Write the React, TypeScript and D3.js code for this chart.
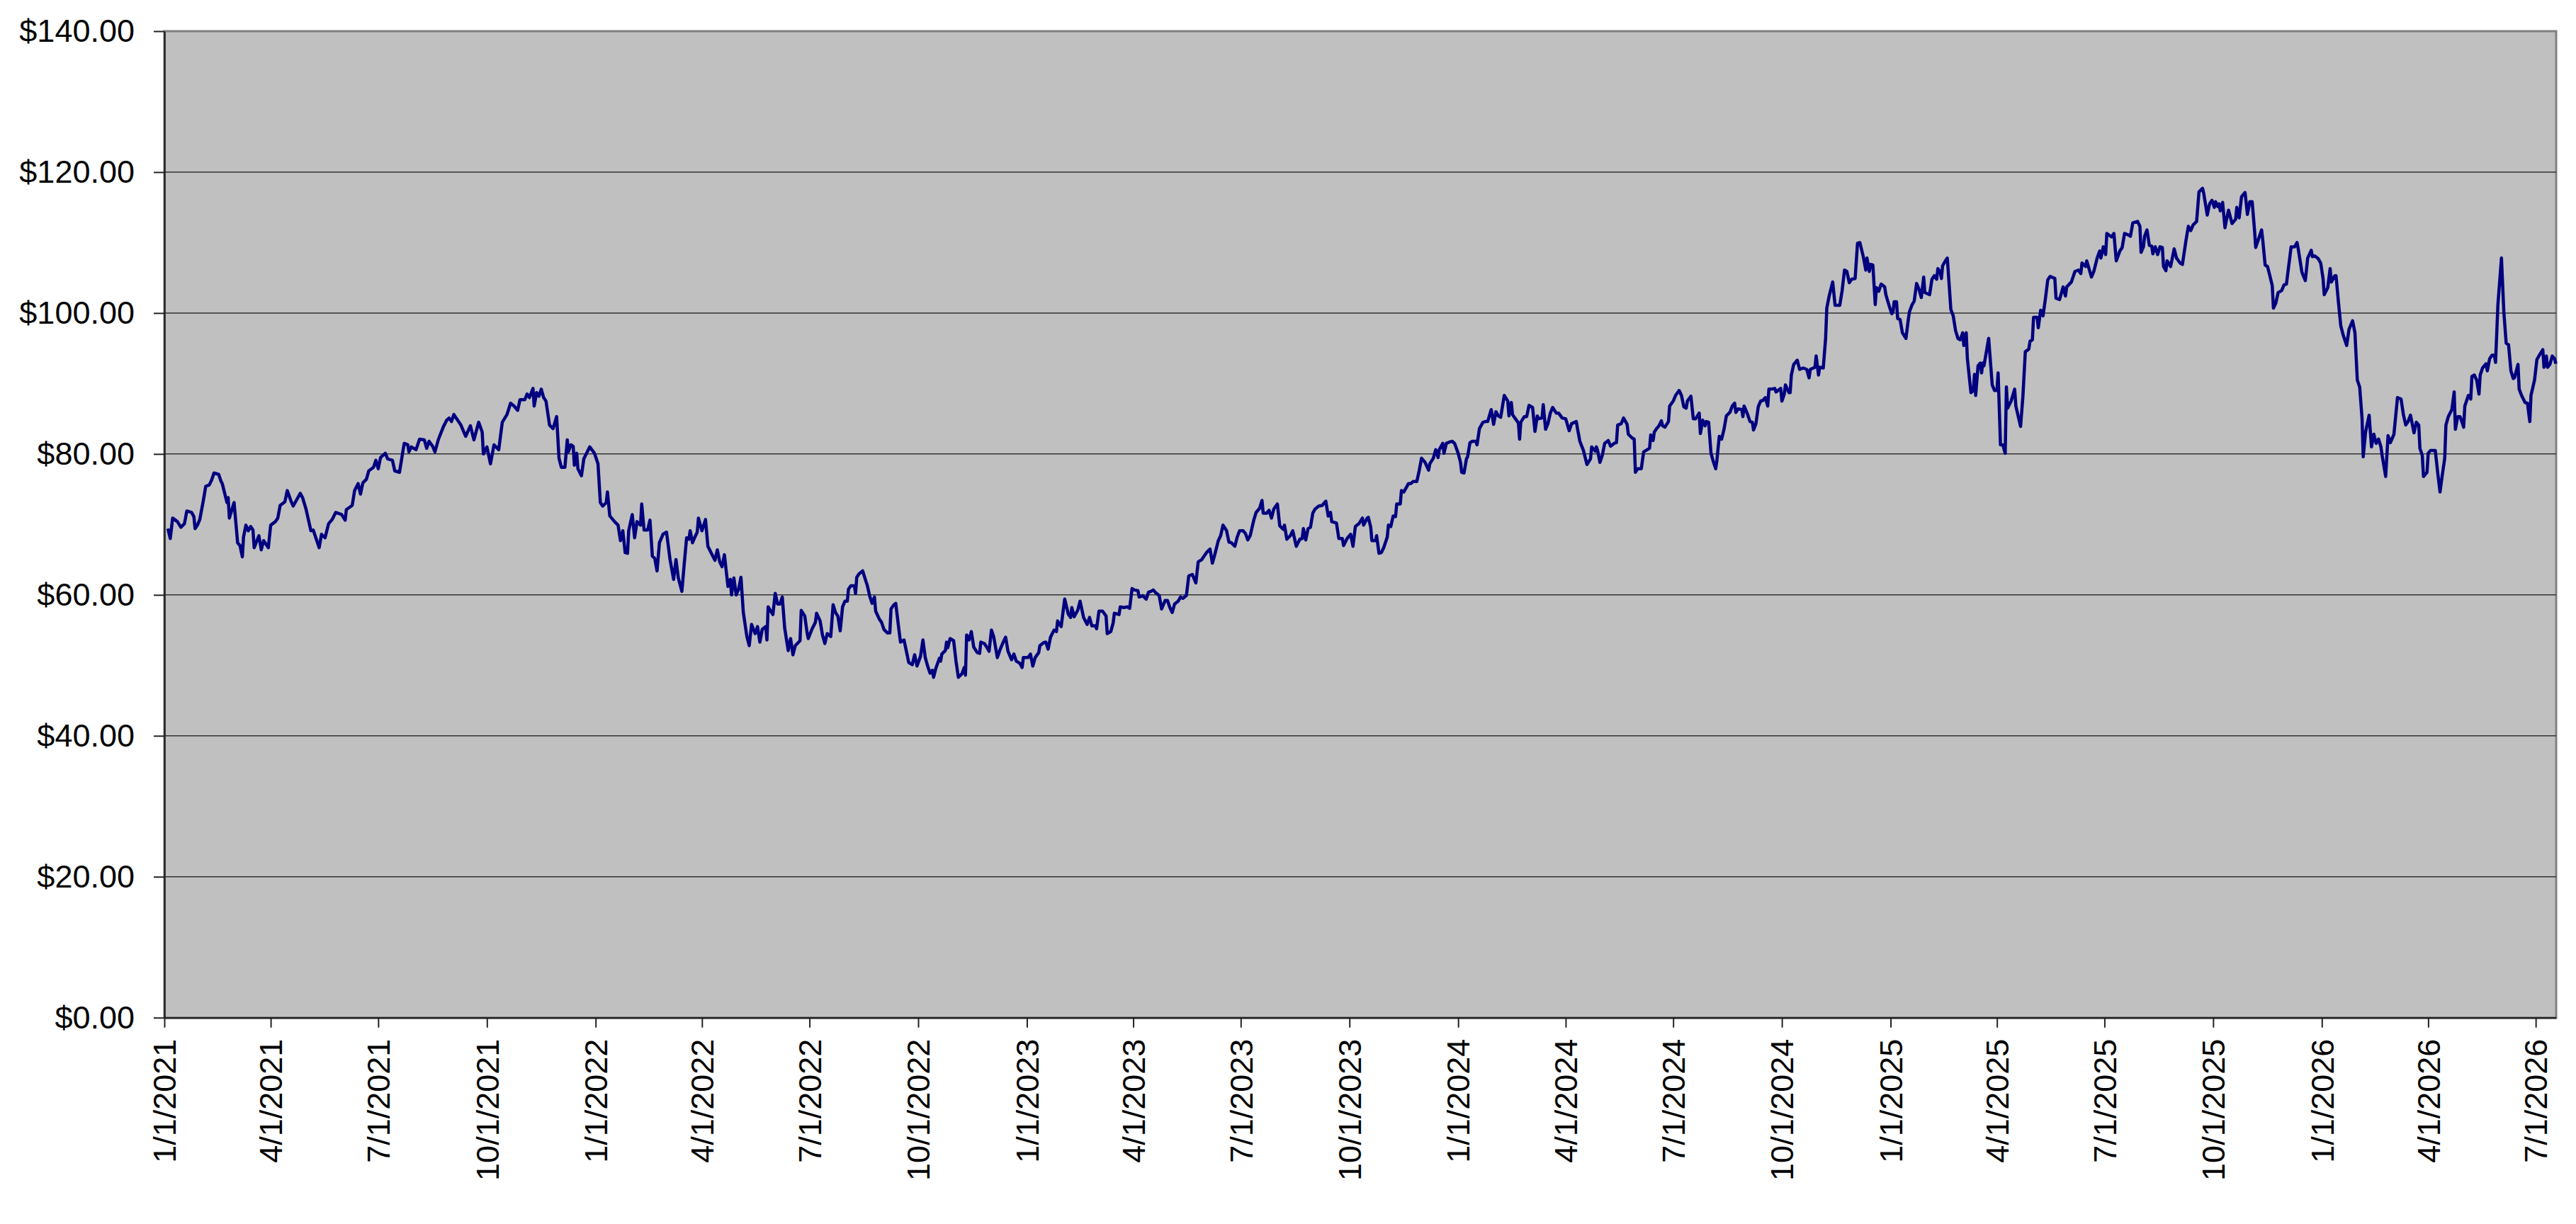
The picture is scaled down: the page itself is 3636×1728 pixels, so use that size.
import React, { useEffect, useRef } from 'react';
import * as d3 from 'd3';

// days since 1/1/2021 and the closing price read at each of them
const sessionDay = [
  3, 5, 7, 11, 14, 17, 19, 23, 25, 26, 28, 30, 33, 35, 38, 40, 42, 46, 48, 49,
  53, 54, 55, 59, 62, 64, 66, 67, 69, 71, 73, 75, 76, 80, 82, 84, 88, 90, 94, 96,
  98, 102, 104, 107, 109, 115, 117, 120, 124, 126, 129, 131, 133, 136, 139, 142, 145, 150, 153, 154,
  159, 161, 164, 166, 168, 171, 173, 177, 179, 181, 183, 187, 189, 193, 195, 199, 203, 206, 207, 209,
  213, 216, 220, 222, 224, 227, 229, 232, 236, 239, 241, 243, 245, 247, 251, 255, 259,
  262, 266, 269, 270, 273, 276, 279, 283, 286, 290, 293, 296, 299, 301, 305, 307, 309, 312, 313, 315,
  317, 319, 321, 323, 326, 329, 332, 334, 336, 339, 341, 342, 344, 346, 347, 349, 350, 353, 355, 360,
  364, 367, 369, 371, 374, 375, 377, 381, 384, 386, 388, 390, 392, 393, 396, 398, 400, 403, 404, 406,
  409, 411, 413, 415, 417, 419, 422, 425, 428, 431, 433, 435, 438, 440, 442, 444, 445, 447, 449, 451,
  452, 455, 458, 460, 463, 466, 468, 470, 472, 474, 477, 479, 480, 482, 484, 486, 488, 490, 493, 495,
  497, 500, 502, 504, 506, 509, 510, 511,
  515, 517, 519, 521, 523, 525, 528, 530, 532, 534, 538, 539, 542, 544, 545, 548, 551, 552, 555, 557,
  559, 561, 564, 566, 568, 570, 572, 574, 576, 578, 579, 581, 584, 585, 586, 588, 591, 594, 595, 597,
  599, 601, 602, 605, 607, 609, 612, 614, 615, 617, 619, 621, 623, 626, 630, 633, 635, 637, 640, 642,
  644, 646, 648, 650, 651, 653, 656, 657, 658, 661, 662, 663, 665, 668, 670, 672, 675, 677, 678, 679,
  681, 683, 685, 688, 690, 691, 694, 696, 698, 700, 702, 705, 707, 710, 712, 714, 717, 719, 721, 724,
  726, 727, 731, 733, 735, 737, 740, 741, 744, 746, 748, 750, 753, 755, 756, 759, 762, 765,
  767, 768, 770, 773, 775, 778, 781, 783, 785, 788, 789, 791, 794, 797, 798, 801, 803, 804, 808, 809,
  812, 815, 817, 819, 821, 824, 825, 828, 831, 833, 835, 837, 839, 842, 844, 847, 849, 851, 853, 855,
  858, 860, 862, 865, 867, 870, 873, 875, 878, 880, 882, 885, 887, 889, 892, 894, 896, 899, 901, 903,
  906, 908, 910, 913, 915, 917, 919, 922, 924, 927, 929, 930, 933, 935, 937, 939, 942, 944, 947, 948,
  950, 953, 955, 958, 961, 963, 964, 966, 968, 970, 972, 974, 977, 980, 983, 985, 987, 988, 992, 994,
  997, 998, 1001, 1004, 1006, 1008, 1011, 1014, 1015, 1018,
  1019, 1021, 1022, 1025, 1026, 1028, 1030, 1032, 1035, 1036, 1038, 1040, 1042, 1043, 1046, 1047, 1049, 1053, 1055, 1057,
  1060, 1062, 1064, 1067, 1070, 1071, 1074, 1076, 1078, 1079, 1082, 1083, 1085, 1088, 1090, 1092, 1095, 1097, 1098, 1100,
  1102, 1103, 1105, 1107, 1110, 1111, 1113, 1116, 1118, 1120, 1123, 1125, 1127, 1129, 1131, 1134, 1137, 1138, 1140, 1141,
  1143, 1146, 1147, 1148, 1151, 1153, 1155, 1158, 1160, 1162, 1163, 1166, 1167, 1169, 1171, 1173, 1175, 1178, 1180, 1183,
  1186, 1189, 1191, 1195, 1196, 1198, 1201, 1204, 1207, 1208, 1211, 1212, 1213, 1215, 1217, 1219, 1222, 1224, 1227, 1229,
  1230, 1233, 1235, 1238, 1239, 1242, 1244, 1245, 1247, 1250, 1252, 1255, 1257, 1258, 1260, 1261, 1263, 1265,
  1267, 1268, 1270, 1273, 1274, 1277, 1279, 1282, 1284, 1286, 1288, 1289, 1292, 1294, 1296, 1299, 1300, 1302, 1304, 1305,
  1307, 1309, 1311, 1313, 1314, 1316, 1318, 1320, 1322, 1325, 1327, 1329, 1330, 1332, 1335, 1336, 1337, 1340, 1342, 1344,
  1345, 1347, 1349, 1351, 1353, 1355, 1357, 1358, 1360, 1363, 1364, 1368, 1369, 1371, 1372, 1375, 1376, 1377, 1379, 1382,
  1384, 1387, 1390, 1392, 1393, 1397, 1398, 1400, 1401, 1404, 1406, 1407, 1409, 1412, 1414, 1418, 1420, 1422, 1424, 1426,
  1428, 1431, 1433, 1435, 1438, 1440, 1441, 1443, 1444, 1446, 1448, 1449, 1451, 1453, 1456, 1457, 1460, 1462, 1463, 1464,
  1466, 1467, 1469, 1471, 1474, 1476, 1477, 1479, 1481, 1483, 1485, 1487, 1489, 1490, 1494, 1496, 1498, 1500, 1501, 1503,
  1504, 1505, 1507, 1509, 1512, 1514, 1516, 1518,
  1520, 1522, 1523, 1525, 1526, 1529, 1531, 1532, 1533, 1535, 1537, 1538, 1539, 1540, 1544, 1547, 1549, 1551, 1552, 1554,
  1556, 1558, 1559, 1560, 1563, 1566, 1567, 1571, 1573, 1575, 1578, 1579, 1581, 1582, 1585, 1586, 1588, 1590, 1592, 1594,
  1596, 1600, 1601, 1604, 1607, 1609, 1610, 1614, 1617, 1620, 1622, 1623, 1626, 1627, 1631, 1633, 1636, 1638, 1639, 1641,
  1643, 1644, 1648, 1650, 1652, 1655, 1657, 1659, 1662, 1664, 1666, 1670, 1672, 1673, 1675, 1676, 1678, 1680, 1682, 1683,
  1685, 1687, 1689, 1691, 1692, 1694, 1695, 1698, 1701, 1703, 1706, 1708, 1711, 1713, 1715, 1717, 1720, 1722, 1725, 1726,
  1729, 1731, 1733, 1735, 1736, 1738, 1739, 1740, 1742, 1744, 1745, 1747, 1750, 1753, 1754, 1756, 1758, 1761, 1763, 1765,
  1767, 1769, 1770,
  1772, 1775, 1776, 1778, 1780, 1782, 1784, 1785, 1787, 1789, 1792, 1794, 1796, 1800, 1803, 1805, 1806, 1809, 1810, 1812,
  1814, 1817, 1818, 1820, 1823, 1825, 1827, 1828, 1831, 1833, 1834, 1837, 1838, 1840, 1842, 1844, 1847, 1849, 1852, 1854,
  1856, 1858, 1860, 1861, 1863, 1866, 1868, 1870, 1872, 1874, 1876, 1877, 1880, 1882, 1884, 1887, 1890, 1893, 1895, 1897,
  1899, 1901, 1904, 1906, 1908, 1909, 1911, 1912, 1915, 1916, 1918, 1922, 1924, 1926, 1928, 1930, 1931, 1933, 1936, 1938,
  1939, 1941, 1943, 1946, 1947, 1950, 1952, 1953, 1955, 1957, 1959, 1960, 1962, 1965, 1966, 1968, 1970, 1972, 1973, 1975,
  1978, 1980, 1982, 1984, 1986, 1988, 1989, 1992, 1993, 1995, 1998, 2000, 2002, 2003, 2006, 2008, 2010, 2013, 2014, 2016,
  2017, 2019, 2021, 2023, 2024,
];

const closePrice = [
  69.4, 68.0, 70.9, 70.4, 69.6, 70.1, 71.9, 71.7, 71.1, 69.4, 69.9, 70.7, 73.4, 75.4, 75.6, 76.3, 77.3, 77.1, 76.1, 75.8,
  73.1, 73.8, 70.9, 73.1, 67.4, 67.0, 65.4, 68.2, 69.9, 69.1, 69.7, 69.2, 66.7, 68.4, 66.4, 67.7, 66.7, 69.9, 70.4, 70.9,
  72.7, 73.2, 74.8, 73.4, 72.6, 74.4, 73.8, 72.1, 69.1, 69.2, 67.7, 66.7, 68.6, 68.1, 70.1, 70.7, 71.7, 71.4, 70.6, 72.1,
  72.7, 74.8, 75.8, 74.3, 75.9, 76.4, 77.6, 78.1, 79.1, 77.9, 79.5, 80.1, 79.3, 79.1, 77.6, 77.4, 81.5, 81.3, 80.3, 81.0,
  80.6, 82.1, 82.0, 80.8, 81.8, 81.1, 80.3, 82.1, 83.8, 84.8, 85.1, 84.6, 85.6, 85.1, 84.1, 82.5, 84.0,
  82.0, 84.5, 83.1, 80.0, 81.0, 78.6, 81.3, 80.6, 84.5, 85.6, 87.2, 86.8, 86.2, 87.7, 87.7, 88.5, 88.0, 89.3, 86.8, 88.7,
  88.2, 89.2, 88.0, 87.5, 84.1, 83.6, 85.3, 79.4, 78.1, 78.1, 82.0, 80.3, 81.3, 81.1, 78.4, 80.1, 77.9, 76.9, 79.3, 81.0,
  80.1, 78.6, 73.1, 72.6, 73.1, 74.6, 71.2, 70.4, 69.9, 67.7, 69.1, 66.0, 65.9, 69.1, 71.4, 68.1, 70.4, 69.9, 72.9, 69.2,
  69.2, 70.6, 65.5, 65.2, 63.4, 67.4, 68.6, 68.9, 65.0, 62.2, 65.0, 62.4, 60.5, 64.4, 68.1, 67.9, 69.1, 67.4, 68.2, 68.9,
  70.9, 69.1, 70.7, 66.9, 65.9, 64.9, 66.4, 64.7, 64.0, 65.7, 61.2, 62.2, 60.0, 62.4, 60.0, 60.8, 62.5, 57.5, 54.1, 52.8,
  55.8, 54.5, 55.5, 53.3, 55.1, 55.5, 53.6, 58.3,
  57.2, 60.2, 58.7, 58.7, 59.7, 55.3, 52.1, 53.8, 51.5, 52.8, 53.5, 57.8, 57.0, 54.6, 53.8, 55.1, 56.1, 57.4, 56.3, 54.3,
  53.1, 54.5, 54.1, 58.6, 57.5, 57.0, 54.9, 58.3, 59.1, 59.1, 60.8, 61.3, 61.3, 60.2, 62.5, 63.0, 63.4, 61.8, 61.3, 59.8,
  58.8, 59.7, 57.7, 56.6, 56.1, 55.1, 54.6, 54.6, 58.0, 58.5, 58.8, 56.0, 53.3, 53.6, 50.4, 50.1, 51.5, 49.9, 51.3, 53.6,
  51.1, 49.9, 48.9, 49.3, 48.3, 49.6, 51.0, 50.6, 51.6, 52.1, 53.3, 52.5, 53.8, 53.5, 50.6, 48.3, 48.8, 49.7, 48.6, 54.3,
  53.6, 54.8, 52.6, 51.8, 51.7, 53.3, 53.1, 52.6, 52.0, 55.0, 54.0, 51.1, 52.1, 53.3, 54.0, 52.0, 50.8, 51.6, 50.6, 50.3,
  49.7, 51.1, 51.1, 51.6, 49.9, 51.1, 51.8, 52.8, 53.2, 53.3, 52.3, 54.0, 55.0, 54.8, 56.3, 55.5, 59.4, 57.3,
  56.8, 58.2, 56.9, 57.8, 59.1, 56.8, 55.8, 56.8, 55.6, 55.6, 55.2, 57.7, 57.7, 57.0, 54.5, 54.8, 56.0, 57.4, 57.2, 58.3,
  58.2, 58.3, 58.1, 60.9, 60.7, 60.6, 59.7, 59.9, 59.4, 60.4, 60.5, 60.7, 60.3, 59.9, 58.0, 59.2, 59.2, 58.2, 57.5, 58.7,
  59.1, 59.7, 59.5, 59.9, 62.7, 62.9, 61.7, 64.7, 65.0, 65.5, 66.0, 66.5, 64.5, 65.7, 67.7, 68.4, 69.9, 69.1, 67.5, 67.4,
  66.9, 68.2, 69.1, 69.1, 68.7, 67.8, 68.4, 70.6, 71.7, 72.3, 73.4, 71.6, 71.6, 72.0, 70.9, 72.2, 72.9, 69.8, 69.3, 69.9,
  67.9, 68.4, 69.1, 66.9, 67.9, 68.0, 69.4, 67.8, 69.4, 69.6, 71.6, 72.2, 72.6, 72.7, 73.3, 71.2, 71.7, 70.4, 70.2, 68.0,
  68.0, 67.0, 68.0, 68.6, 66.9, 69.7, 70.1, 70.9, 69.9, 70.9,
  71.0, 69.6, 67.7, 67.7, 68.4, 65.9, 66.0, 66.7, 68.2, 69.9, 69.7, 71.2, 71.1, 72.9, 72.9, 74.8, 74.6, 75.8, 75.8, 76.1,
  76.1, 77.6, 79.4, 78.8, 77.7, 78.6, 79.4, 80.6, 79.5, 80.6, 81.5, 80.1, 81.5, 81.7, 81.8, 81.5, 80.1, 78.8, 77.4, 77.3,
  79.3, 79.6, 81.6, 81.8, 81.8, 81.3, 83.6, 84.5, 84.6, 84.6, 86.3, 84.2, 86.0, 85.4, 85.2, 88.3, 87.5, 85.4, 87.3, 85.6,
  85.1, 84.4, 82.1, 84.5, 85.3, 85.3, 86.9, 86.6, 83.2, 85.4, 85.0, 85.1, 87.0, 83.5, 84.3, 85.8, 86.6, 85.8, 85.8, 85.1,
  85.0, 83.3, 84.3, 84.6, 83.6, 81.8, 80.5, 78.5, 79.3, 81.0, 80.4, 81.0, 80.5, 78.8, 79.8, 81.5, 81.9, 81.1, 81.5, 81.6,
  84.1, 84.3, 85.1, 84.2, 82.8, 82.3, 82.1, 77.4, 77.9, 77.9, 80.3, 80.6, 80.8, 82.7, 81.9, 83.1, 83.6, 84.0,
  84.7, 84.0, 83.8, 84.6, 86.8, 87.5, 88.3, 89.0, 88.3, 86.7, 86.5, 87.5, 88.2, 85.0, 85.0, 85.8, 82.9, 84.8, 84.0, 84.6,
  84.5, 80.1, 78.9, 77.9, 79.1, 82.5, 82.1, 83.5, 85.4, 85.9, 86.8, 87.2, 85.9, 86.4, 86.3, 85.3, 86.8, 85.6, 84.6, 84.5,
  83.4, 84.3, 86.7, 87.5, 87.6, 88.0, 86.8, 89.2, 89.2, 89.3, 88.8, 89.3, 87.5, 88.5, 89.8, 88.7, 88.7, 91.2, 92.7, 93.3,
  92.0, 92.2, 92.0, 90.8, 92.0, 92.3, 93.9, 91.2, 92.3, 92.2, 96.4, 100.7, 102.4, 104.4, 101.1, 101.1, 103.2, 106.1, 105.9, 104.3,
  104.8, 104.9, 109.9, 110.0, 107.9, 106.1, 107.8, 105.9, 106.9, 106.8, 101.2, 103.6, 103.1, 104.1, 103.7, 102.6, 100.9, 99.9, 100.1, 101.6,
  101.6, 99.2, 99.1, 97.2, 96.4, 99.1, 100.2, 101.1, 101.7, 104.2, 103.4, 102.2, 105.1, 102.9, 102.6, 104.8, 105.3, 104.8, 106.3, 105.8,
  104.9, 106.7, 107.3, 107.8, 100.5, 99.6, 97.5, 96.4,
  96.2, 97.2, 95.4, 97.2, 93.5, 88.7, 89.0, 91.3, 88.3, 92.5, 92.9, 91.5, 92.9, 92.5, 96.4, 89.8, 89.0, 89.0, 91.5, 81.3,
  81.3, 80.1, 89.5, 86.5, 87.5, 89.2, 86.8, 83.9, 88.2, 94.5, 94.9, 96.0, 96.2, 99.4, 99.4, 97.9, 100.4, 99.6, 102.0, 104.7,
  105.2, 104.9, 102.1, 101.9, 103.7, 102.4, 103.7, 104.4, 105.9, 106.1, 105.6, 107.1, 106.6, 107.4, 105.1, 105.9, 107.9, 108.8, 107.8, 109.4,
  108.3, 111.3, 110.8, 111.3, 107.4, 108.8, 109.3, 111.3, 111.1, 110.9, 112.8, 113.0, 112.3, 108.6, 109.4, 110.9, 111.8, 109.6, 109.5, 108.4,
  109.4, 108.3, 109.4, 109.3, 106.6, 106.0, 107.4, 106.6, 109.1, 107.8, 107.1, 106.9, 110.3, 112.3, 111.7, 112.5, 113.0, 117.2, 117.7, 117.0,
  113.9, 115.5, 116.0, 115.0, 115.8, 115.1, 115.5, 114.5, 115.7, 112.1, 113.0, 114.6, 112.7, 113.3, 115.0, 113.5, 116.5, 117.1, 114.0, 115.8,
  115.8, 111.8, 109.3,
  110.3, 111.8, 110.3, 106.8, 106.6, 105.3, 103.9, 100.7, 101.4, 102.9, 103.2, 104.0, 104.1, 109.4, 109.4, 110.0, 109.1, 105.9, 105.4, 104.6,
  107.8, 108.9, 108.0, 108.1, 107.7, 107.1, 104.9, 102.6, 103.6, 106.3, 104.4, 105.3, 105.3, 101.6, 98.2, 96.9, 95.4, 97.7, 98.9, 97.2,
  90.5, 89.5, 85.1, 79.6, 83.1, 85.5, 81.0, 82.8, 81.5, 82.1, 81.0, 79.8, 76.8, 82.6, 81.6, 82.8, 88.0, 87.8, 85.6, 84.1,
  84.6, 85.5, 83.0, 84.5, 84.1, 80.8, 79.8, 76.8, 77.4, 80.1, 80.5, 80.5, 77.4, 74.6, 77.1, 79.4, 84.1, 85.3, 86.3, 88.8,
  83.5, 85.3, 85.3, 83.8, 86.8, 88.3, 87.8, 91.0, 91.2, 90.5, 88.5, 91.2, 92.2, 92.8, 91.8, 93.5, 94.0, 94.0, 93.0, 101.2,
  107.8, 100.2, 95.7, 95.5, 91.8, 90.7, 90.8, 92.7, 89.2, 88.3, 87.3, 87.2, 84.6, 88.3, 90.5, 93.4, 94.0, 94.8, 92.3, 93.9,
  92.3, 92.7, 93.9, 93.5, 92.8,
];

const priceTicks = [0, 20, 40, 60, 80, 100, 120, 140];

const START = Date.UTC(2021, 0, 1);
const DAY_MS = 86400000;
const LAST_DAY = 2024.3;

const App = () => {
  const svgRef = useRef(null);

  useEffect(() => {
    const svg = d3.select(svgRef.current);
    const width = 3636;
    const height = 1728;
    const plot = { left: 232, right: 3608, top: 44, bottom: 1436.7 };
    const font = "'Liberation Sans', Arial, sans-serif";

    const data = sessionDay.map((d, i) => ({
      date: new Date(START + d * DAY_MS),
      value: closePrice[i],
    }));

    const xScale = d3
      .scaleUtc()
      .domain([new Date(START), new Date(START + LAST_DAY * DAY_MS)])
      .range([plot.left, plot.right]);

    const yScale = d3.scaleLinear().domain([0, 140]).range([plot.bottom, plot.top]);

    svg.attr('width', width).attr('height', height);

    svg
      .append('rect')
      .attr('width', width)
      .attr('height', height)
      .attr('fill', '#ffffff');

    // plot area
    svg
      .append('rect')
      .attr('x', plot.left)
      .attr('y', plot.top)
      .attr('width', plot.right - plot.left)
      .attr('height', plot.bottom - plot.top)
      .attr('fill', '#c0c0c0')
      .attr('stroke', '#808080')
      .attr('stroke-width', 3);

    // gridlines
    svg
      .selectAll('.grid')
      .data(priceTicks.filter((t) => t > 0 && t < 140))
      .enter()
      .append('line')
      .attr('class', 'grid')
      .attr('x1', plot.left)
      .attr('x2', plot.right)
      .attr('y1', (d) => yScale(d))
      .attr('y2', (d) => yScale(d))
      .attr('stroke', '#333333')
      .attr('stroke-width', 1.5);

    // price line
    const line = d3
      .line()
      .x((d) => xScale(d.date))
      .y((d) => yScale(d.value));

    svg
      .append('path')
      .datum(data)
      .attr('d', line)
      .attr('fill', 'none')
      .attr('stroke', '#000080')
      .attr('stroke-width', 4.5)
      .attr('stroke-linejoin', 'round');

    // y-axis
    const yAxis = svg
      .append('g')
      .attr('transform', `translate(${plot.left},0)`)
      .call(
        d3
          .axisLeft(yScale)
          .tickValues(priceTicks)
          .tickFormat(d3.format('$,.2f'))
          .tickSize(15)
          .tickSizeOuter(0)
          .tickPadding(27)
      );
    yAxis.attr('font-family', font).attr('font-size', 45).attr('color', '#000');
    yAxis.select('.domain').attr('stroke', '#222').attr('stroke-width', 2.5);
    yAxis.selectAll('.tick line').attr('stroke', '#222').attr('stroke-width', 2);

    // x-axis
    const quarterTicks = d3.utcMonth
      .every(3)
      .range(new Date(START), new Date(START + LAST_DAY * DAY_MS));
    const fmt = (d) => `${d.getUTCMonth() + 1}/${d.getUTCDate()}/${d.getUTCFullYear()}`;

    const xAxis = svg
      .append('g')
      .attr('transform', `translate(0,${plot.bottom})`)
      .call(
        d3
          .axisBottom(xScale)
          .tickValues(quarterTicks)
          .tickFormat(fmt)
          .tickSize(14)
          .tickSizeOuter(0)
      );
    xAxis.attr('font-family', font).attr('font-size', 45).attr('color', '#000');
    xAxis.select('.domain').attr('stroke', '#222').attr('stroke-width', 2.5);
    xAxis.selectAll('.tick line').attr('stroke', '#222').attr('stroke-width', 2);
    xAxis
      .selectAll('.tick text')
      .attr('transform', 'rotate(-90)')
      .attr('text-anchor', 'end')
      .attr('x', -30)
      .attr('y', 0)
      .attr('dy', '0.35em');

    return () => {
      svg.selectAll('*').remove();
    };
  }, []);

  return (
    <div style={{ position: 'absolute', left: 0, top: 0 }}>
      <svg ref={svgRef} style={{ display: 'block' }}></svg>
    </div>
  );
};

export default App;
